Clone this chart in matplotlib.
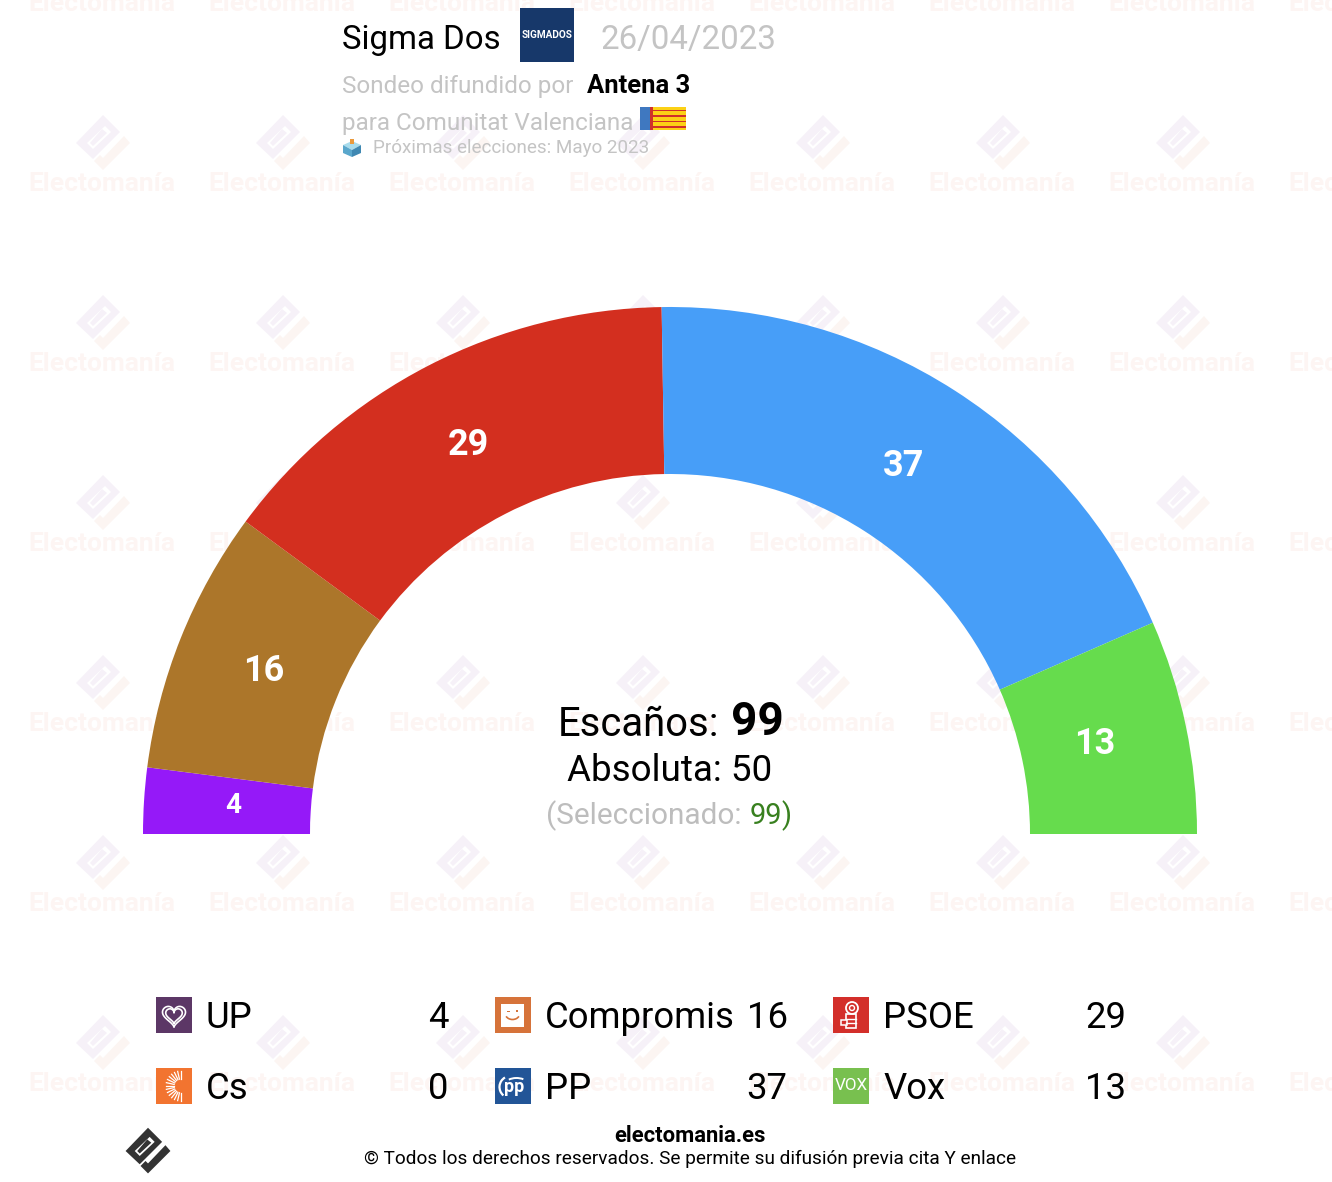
import numpy as np
import matplotlib
matplotlib.use('Agg')
import matplotlib.pyplot as plt
from matplotlib.patches import Wedge, Rectangle, Polygon, Circle, Arc

# datos
partidos = ['UP', 'Cs', 'Compromis', 'PP', 'PSOE', 'Vox']
escanos = [4, 0, 16, 37, 29, 13]
orden_arco = ['UP', 'Compromis', 'PSOE', 'PP', 'Vox']
colores_arco = ['#9519f8', '#ac762a', '#d32f1f', '#479ef8', '#66dc4d']
colores_icono = ['#5c3766', '#f27430', '#d6733a', '#225597', '#d32f2a', '#78c04f']
total = 99
absoluta = 50
seleccionado = 99

plt.rcParams['font.family'] = ['Roboto', 'DejaVu Sans']


def px(s):
    return s * 72 / 100


fig = plt.figure(figsize=(13.32, 11.82), dpi=100)
ax = fig.add_axes([0, 0, 1, 1])
ax.set_xlim(0, 1332)
ax.set_ylim(1182, 0)
ax.axis('off')


def logo(x, y, esc, c1, c2, z=1):
    # rombo con ranura y la "marca" de abajo
    def p(puntos):
        return [(x + a * esc, y + b * esc) for a, b in puntos]
    ax.add_patch(Polygon(p([(0, -28), (17, -11), (-10, 16), (-27, 0)]), fc=c1, ec='none', zorder=z))
    ax.add_patch(Polygon(p([(2, -17), (8, -11), (-10, 6), (-16, 0)]), fc='white', ec='none', zorder=z))
    ax.add_patch(Polygon(p([(-1, -14), (4, -10), (-10, 3), (-13, 0)]), fc=c1, ec='none', zorder=z))
    ax.add_patch(Polygon(p([(21, -7), (27, 0), (0, 27), (-9, 18), (-3, 12), (0, 15)]), fc=c2, ec='none', zorder=z))


# marca de agua
for i in range(8):
    xw = 103 + 180 * i
    for j in range(7):
        yw = 143 + 180 * j - 180
        if yw > 0:
            logo(xw, yw, 1, '#f6f1f8', '#fcf5f2')
        ax.text(xw - 1, yw + 41, 'Electomanía', fontsize=px(26.4), fontweight='bold', color='#fdf5f3',
                ha='center', va='center', zorder=1, clip_on=True)

# arco
cx, cy = 670, 834
r_ext, r_int = 527, 360
valores_arco = [escanos[partidos.index(n)] for n in orden_arco]
acum = 0
for n, v, col in zip(orden_arco, valores_arco, colores_arco):
    t1 = 180 + 180 * acum / total
    t2 = 180 + 180 * (acum + v) / total
    ax.add_patch(Wedge((cx, cy), r_ext, t1, t2, width=r_ext - r_int, fc=col, ec='none', zorder=2))
    tm = np.radians((t1 + t2) / 2)
    ax.text(cx + 436 * np.cos(tm) - 2, cy + 436 * np.sin(tm) - 1, str(v), color='white', fontweight='bold',
            fontsize=px(28 if v < 10 else 36), ha='center', va='center', zorder=3)
    acum += v

# centro
ax.text(558, 725, 'Escaños:', fontsize=px(40), color='black', va='center', zorder=4)
ax.text(731, 722, str(total), fontsize=px(46), fontweight='bold', color='black', va='center', zorder=4)
ax.text(670, 771, f'Absoluta: {absoluta}', fontsize=px(36.8), color='black', ha='center', va='center', zorder=4)
ax.text(546, 816, '(Seleccionado:', fontsize=px(29.7), color='#bdbdbd', va='center', zorder=4)
ax.text(750, 816, str(seleccionado), fontsize=px(29), color='#38801f', va='center', zorder=4)
ax.text(781, 816, ')', fontsize=px(29), color='#38801f', va='center', zorder=4)

# cabecera
ax.text(342, 49, 'Sigma Dos', fontsize=px(33), color='black', va='baseline', zorder=4)
ax.add_patch(Rectangle((520, 8), 54, 54, fc='#17386a', ec='none', zorder=4))
ax.text(547, 35, 'SIGMADOS', fontsize=px(10), fontweight='bold', color='white', ha='center', va='center', zorder=5)
ax.text(600, 49, '26/04/2023', fontsize=px(33), color='#c4c4c4', va='baseline', zorder=4)
ax.text(342, 93, 'Sondeo difundido por', fontsize=px(24.2), color='#c4c4c4', va='baseline', zorder=4)
ax.text(587, 93, 'Antena 3', fontsize=px(25.6), fontweight='bold', color='black', va='baseline', zorder=4)
ax.text(342, 130, 'para Comunitat Valenciana', fontsize=px(24.2), color='#c4c4c4', va='baseline', zorder=4)
ax.text(373, 153, 'Próximas elecciones: Mayo 2023', fontsize=px(18.9), color='#c4c4c4', va='baseline', zorder=4)

# bandera
ax.add_patch(Rectangle((640, 107), 46, 23, fc='#fcd116', ec='none', zorder=4))
ax.add_patch(Rectangle((640, 107), 11, 23, fc='#3f78c0', ec='none', zorder=5))
ax.add_patch(Rectangle((650, 107), 3, 23, fc='#d0302a', ec='none', zorder=5))
for k in range(4):
    ax.add_patch(Rectangle((653, 109.5 + k * 5.6), 33, 1.6, fc='#d0302a', ec='none', zorder=5))

# urna
ax.add_patch(Polygon([(343, 145), (352, 141), (361, 145), (352, 150)], fc='#a9dcec', ec='none', zorder=4))
ax.add_patch(Polygon([(343, 145), (352, 150), (352, 157), (343, 153)], fc='#5aa7cc', ec='none', zorder=4))
ax.add_patch(Polygon([(361, 145), (352, 150), (352, 157), (361, 153)], fc='#3f88b2', ec='none', zorder=4))
ax.add_patch(Rectangle((350, 139), 4, 5, fc='#eb9a3c', ec='none', zorder=5))


# iconos de la leyenda
def icono(nombre, x, y, col):
    s = 36
    ax.add_patch(Rectangle((x, y), s, s, fc=col, ec='none', zorder=4))
    m = (x + s / 2, y + s / 2)
    if nombre == 'UP':
        for e, lw in [(1.0, 1.2), (0.72, 1.2)]:
            t = np.linspace(0, 2 * np.pi, 80)
            hx = 16 * np.sin(t) ** 3 * 0.72 * e
            hy = -(13 * np.cos(t) - 5 * np.cos(2 * t) - 2 * np.cos(3 * t) - np.cos(4 * t)) * 0.72 * e
            ax.plot(m[0] + hx, m[1] + hy, color='white', lw=lw, zorder=5)
    elif nombre == 'Cs':
        for a in np.linspace(90, 270, 15):
            c, n = np.cos(np.radians(a)), np.sin(np.radians(a))
            ax.plot([x + 25 + 7 * c, x + 25 + 15 * c], [m[1] + 7 * n, m[1] + 15 * n], color='white', lw=0.9, zorder=5)
    elif nombre == 'Compromis':
        ax.add_patch(Rectangle((x + 6.5, y + 6.5), 23, 23, fc='white', ec='none', zorder=5))
        ax.add_patch(Arc((m[0], y + 17), 14, 11, theta1=20, theta2=160, ec=col, lw=1.2, zorder=6))
        ax.add_patch(Rectangle((x + 12, y + 14), 3, 1.3, fc=col, ec='none', zorder=6))
        ax.add_patch(Rectangle((x + 21, y + 13), 2, 2.2, fc=col, ec='none', zorder=6))
    elif nombre == 'PP':
        ax.text(m[0] + 2, m[1] + 1, 'pp', color='white', fontsize=px(18), fontweight='bold', ha='center', va='center', zorder=5)
        ax.add_patch(Arc((m[0] - 2, m[1] + 1), 22, 22, theta1=130, theta2=240, ec='white', lw=1.6, zorder=5))
        ax.add_patch(Arc((m[0] + 4, m[1] - 1), 24, 14, theta1=215, theta2=320, ec='white', lw=1.4, zorder=5))
    elif nombre == 'PSOE':
        ax.add_patch(Circle((m[0] + 1, y + 11), 6, fc='none', ec='white', lw=1.3, zorder=5))
        ax.add_patch(Circle((m[0] + 1, y + 11), 2.5, fc='none', ec='white', lw=1, zorder=5))
        ax.add_patch(Rectangle((x + 13, y + 17), 10, 14, fc='none', ec='white', lw=1.2, zorder=5))
        ax.add_patch(Rectangle((x + 8, y + 23), 6, 5, fc=col, ec='white', lw=1.1, zorder=6))
        for k in range(2):
            ax.plot([x + 13, x + 23], [y + 21.5 + k * 4.5] * 2, color='white', lw=1, zorder=6)
    elif nombre == 'Vox':
        ax.text(m[0], m[1], 'VOX', color='white', fontsize=px(17), ha='center', va='center', zorder=5)


cols_icono = [156, 494.5, 833]
filas = [997, 1068]
for i, (n, v, col) in enumerate(zip(partidos, escanos, colores_icono)):
    c, f = i // 2, i % 2
    xi = cols_icono[c]
    yf = filas[f]
    icono(n, xi, yf, col)
    ax.text(xi + 50, yf + 31, n, fontsize=px(36.5), color='black', va='baseline', zorder=4)
    ax.text(xi + 293, yf + 31, str(v), fontsize=px(36.5), color='black', ha='right', va='baseline', zorder=4)

# pie
logo(148, 1151, 0.83, '#333333', '#333333', z=4)
ax.text(690, 1142, 'electomania.es', fontsize=px(22), fontweight='bold', color='black', ha='center', va='baseline', zorder=4)
ax.text(690, 1164, '© Todos los derechos reservados. Se permite su difusión previa cita Y enlace',
        fontsize=px(19), color='black', ha='center', va='baseline', zorder=4)

fig.savefig('out.png', dpi=100, facecolor='white')
